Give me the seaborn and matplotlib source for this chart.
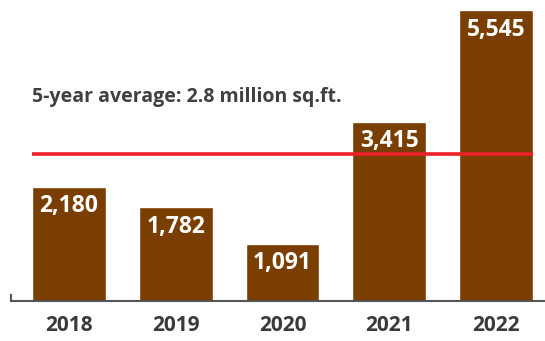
import matplotlib
matplotlib.use("Agg")
import matplotlib.pyplot as plt
import seaborn as sns
import pandas as pd

years = ["2018", "2019", "2020", "2021", "2022"]
values = [2180, 1782, 1091, 3415, 5545]
labels = ["2,180", "1,782", "1,091", "3,415", "5,545"]
average = 2802.6
avg_text = "5-year average: 2.8 million sq.ft."

sns.set_theme(style="white")
plt.rcParams['font.family'] = ['Open Sans', 'DejaVu Sans']

W, H = 545, 341
fig = plt.figure(figsize=(W / 100, H / 100), dpi=100)
ax = fig.add_axes([11 / W, (H - 301) / H, (545 - 11) / W, 301 / H])

df = pd.DataFrame({"year": years, "value": values})
sns.barplot(data=df, x="year", y="value", color="#7a3e00", saturation=1,
            width=0.69, ax=ax)

ax.set_xlim(-0.543, 4.459)
ax.set_ylim(0, 5735)

for i, (v, lab) in enumerate(zip(values, labels)):
    ax.text(i, v - 490, lab, ha="center", va="baseline", color="white",
            fontsize=16.5, fontweight="bold")

ax.hlines(average, -0.345, 4.345, color="#ec2028", linewidth=2.6, zorder=5)
ax.text(-0.345, 3792, avg_text, ha="left", va="baseline", color="#404040",
        fontsize=14, fontweight="bold")

ax.set_xlabel("")
ax.set_ylabel("")
ax.set_yticks([])
ax.tick_params(axis="x", length=0, pad=10, labelsize=15, labelcolor="#3a3a3a")
for t in ax.get_xticklabels():
    t.set_fontweight("bold")

for s in ["top", "right"]:
    ax.spines[s].set_visible(False)
ax.spines["bottom"].set_color("#555555")
ax.spines["bottom"].set_linewidth(1.5)
ax.spines["left"].set_color("#555555")
ax.spines["left"].set_linewidth(1.5)
ax.spines["left"].set_bounds(0, 120)

fig.savefig("out.png", dpi=100)
